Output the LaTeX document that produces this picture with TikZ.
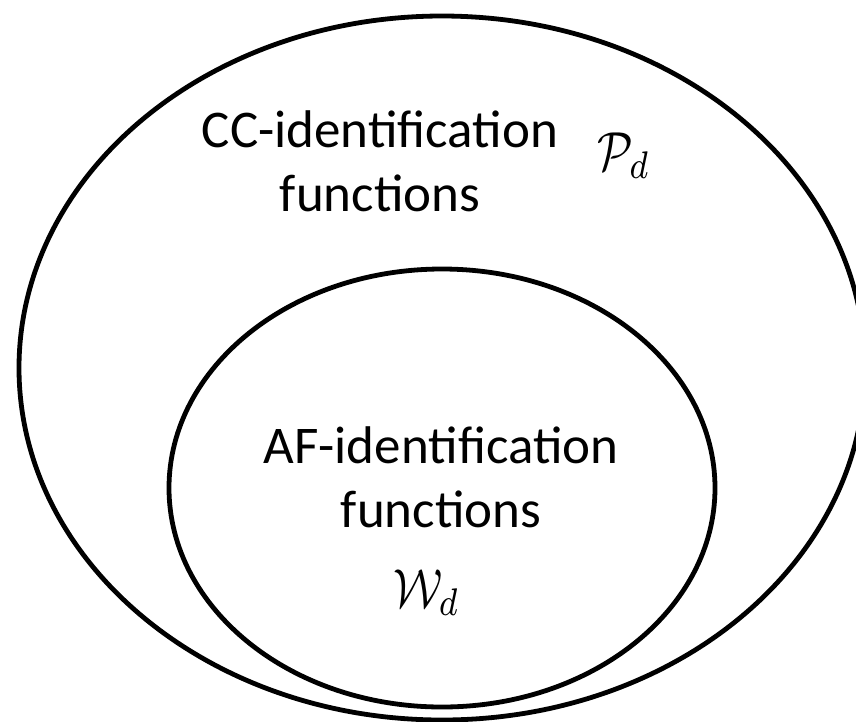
\documentclass[tikz,border=0pt]{standalone}
\usepackage{fontspec}
\setmainfont{Carlito}
\begin{document}
\begin{tikzpicture}[x=1pt,y=-1pt,
  setline/.style={line width=4.8pt, draw=black},
  label/.style={font=\fontsize{53}{64}\selectfont, align=center, inner sep=0pt, anchor=base},
  sym/.style={font=\fontsize{10}{12}\selectfont, inner sep=0pt, anchor=base west}]
  \useasboundingbox (0,0) rectangle (856,721);
  \clip (0,0) rectangle (856,721);
  % outer set: CC-identification functions
  \draw[setline] (442,368) ellipse [x radius=423, y radius=352];
  % inner set: AF-identification functions
  \draw[setline] (442,488) ellipse [x radius=273, y radius=219];
  % labels (the base anchor sits on the last line)
  \node[label] (cc) at (380,211) {CC-identification\\functions};
  \node[sym] (pd) at (597,170) {\scalebox{4.6}[5.5]{$\mathcal{P}_d$}};
  \node[label] (af) at (441,527) {AF-identification\\functions};
  \node[sym] (wd) at (393,607) {\scalebox{4.6}[5.5]{$\mathcal{W}_d$}};
\end{tikzpicture}
\end{document}
